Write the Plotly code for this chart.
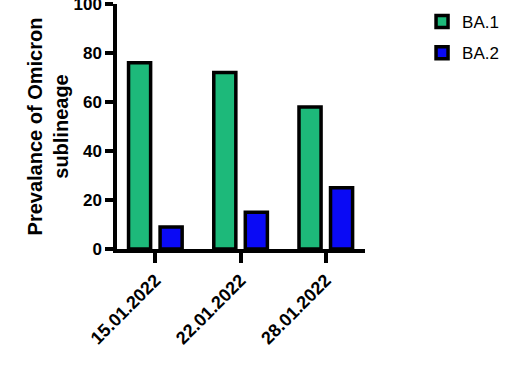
import plotly.graph_objects as go

dates = ["15.01.2022", "22.01.2022", "28.01.2022"]
ba1 = [76, 72, 58]
ba2 = [9, 15, 25]
y_ticks = [0, 20, 40, 60, 80, 100]

FONT = "Arial, Liberation Sans, sans-serif"

fig = go.Figure()
fig.add_trace(go.Bar(x=dates, y=ba1, name="BA.1", legendgroup="a",
                     marker=dict(color="#1DB97A", line=dict(color="black", width=3.5))))
fig.add_trace(go.Bar(x=dates, y=ba2, name="BA.2", legendgroup="b",
                     marker=dict(color="#0A0AF5", line=dict(color="black", width=3.5))))

fig.update_layout(
    width=524, height=365,
    margin=dict(l=117, r=159, t=4, b=116, autoexpand=False),
    paper_bgcolor="white", plot_bgcolor="white",
    barmode="group", bargap=0.26, bargroupgap=0.3,
    font=dict(family=FONT, color="black"),
    legend=dict(x=1.23, y=1.0, xanchor="left", yanchor="top",
                font=dict(size=17, family=FONT), tracegroupgap=6),
    showlegend=True,
)
fig.update_yaxes(range=[0, 100.01], tickvals=y_ticks, showline=True, linecolor="black",
                 linewidth=3.5, ticks="outside", ticklen=8, tickwidth=3.5, tickcolor="black",
                 showgrid=False, zeroline=False, ticklabeloverflow="allow", automargin=False,
                 tickfont=dict(size=17, family=FONT, weight="bold"),
                 title=dict(text="Prevalance of Omicron<br>sublineage",
                            font=dict(size=20, family=FONT, weight="bold"), standoff=0))
fig.update_xaxes(range=[-0.45, 2.46], showline=True, linecolor="black", linewidth=3.5,
                 ticks="outside", ticklen=10, tickwidth=3.5, tickcolor="black",
                 showgrid=False, tickangle=-45, automargin=False,
                 tickfont=dict(size=18, family=FONT, weight="bold"))

fig.write_html("out.html")
